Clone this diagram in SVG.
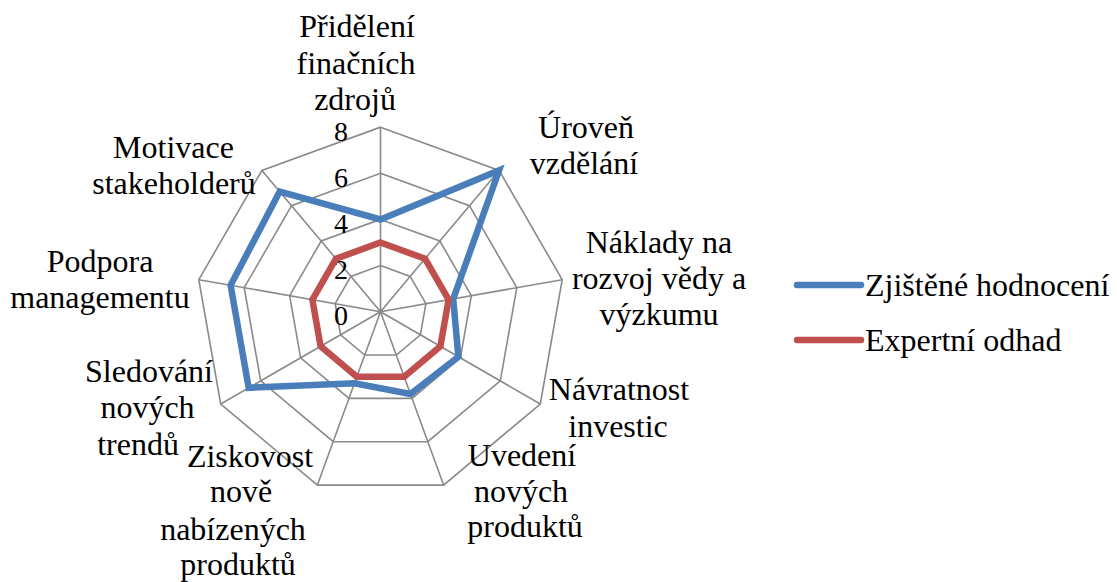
<svg xmlns="http://www.w3.org/2000/svg" width="1117" height="582" viewBox="0 0 1117 582">
<rect width="1117" height="582" fill="#fff"/>
<g id="grid" fill="none" stroke="#8a8a8a" stroke-width="1.6">
<polygon points="380.5,127.2 499.1,170.4 562.2,279.7 540.3,404 443.6,485.1 317.4,485.1 220.7,404 198.8,279.7 261.9,170.4"/>
<polygon points="380.5,173.3 469.45,205.7 516.8,287.7 500.3,380.9 427.8,441.7 333.2,441.7 260.7,380.9 244.2,287.7 291.55,205.7"/>
<polygon points="380.5,219.45 439.8,241 471.35,295.7 460.4,357.8 412.05,398.4 348.95,398.4 300.6,357.8 289.65,295.7 321.2,241"/>
<polygon points="380.5,265.6 410.15,276.4 425.9,303.7 420.4,334.8 396.3,355 364.7,355 340.6,334.8 335.1,303.7 350.85,276.4"/>
<path d="M380.5,311.7L380.5,127.2M380.5,311.7L499.1,170.4M380.5,311.7L562.2,279.7M380.5,311.7L540.3,404M380.5,311.7L443.6,485.1M380.5,311.7L317.4,485.1M380.5,311.7L220.7,404M380.5,311.7L198.8,279.7M380.5,311.7L261.9,170.4"/>
</g>
<g id="ticks">
<text x="348" y="141" font-family="Liberation Serif" font-size="28" text-anchor="end">8</text>
<text x="348" y="187" font-family="Liberation Serif" font-size="28" text-anchor="end">6</text>
<text x="348" y="233" font-family="Liberation Serif" font-size="28" text-anchor="end">4</text>
<text x="348" y="279" font-family="Liberation Serif" font-size="28" text-anchor="end">2</text>
<text x="348" y="325" font-family="Liberation Serif" font-size="28" text-anchor="end">0</text>
</g>
<g id="connectors" fill="none" stroke-width="6.5" stroke-linejoin="miter">
<polygon id="series-zjistene" stroke="#4a7ebb" points="380.5,219.45 499.1,170.4 453.2,298.9 458.4,356.7 410.5,394 354.5,383.2 248.7,387.8 230.6,285.3 279.7,191.6"/>
<polygon id="series-expertni" stroke="#c0504d" points="380.5,242.5 425,258.7 448.6,299.7 440.4,346.3 404.2,376.7 356.8,376.7 320.6,346.3 312.4,299.7 336,258.7"/>
</g>
<g id="axis-pridelovani">
<text x="357" y="37" font-family="Liberation Serif" font-size="32" text-anchor="middle">Přidělení</text>
<text x="356" y="73.5" font-family="Liberation Serif" font-size="32" text-anchor="middle">finačních</text>
<text x="355" y="110" font-family="Liberation Serif" font-size="32" text-anchor="middle">zdrojů</text>
</g>
<g id="axis-uroven">
<text x="586" y="137.5" font-family="Liberation Serif" font-size="32" text-anchor="middle">Úroveň</text>
<text x="584" y="174" font-family="Liberation Serif" font-size="32" text-anchor="middle">vzdělání</text>
</g>
<g id="axis-naklady">
<text x="659" y="252.5" font-family="Liberation Serif" font-size="32" text-anchor="middle">Náklady na</text>
<text x="659" y="288.5" font-family="Liberation Serif" font-size="32" text-anchor="middle">rozvoj vědy a</text>
<text x="659" y="325" font-family="Liberation Serif" font-size="32" text-anchor="middle">výzkumu</text>
</g>
<g id="axis-navratnost">
<text x="619" y="400" font-family="Liberation Serif" font-size="32" text-anchor="middle">Návratnost</text>
<text x="618" y="436.5" font-family="Liberation Serif" font-size="32" text-anchor="middle">investic</text>
</g>
<g id="axis-uvedeni">
<text x="522" y="465.5" font-family="Liberation Serif" font-size="32" text-anchor="middle">Uvedení</text>
<text x="521" y="501.5" font-family="Liberation Serif" font-size="32" text-anchor="middle">nových</text>
<text x="525" y="537" font-family="Liberation Serif" font-size="32" text-anchor="middle">produktů</text>
</g>
<g id="axis-ziskovost">
<text x="250" y="466.5" font-family="Liberation Serif" font-size="32" text-anchor="middle">Ziskovost</text>
<text x="241" y="502" font-family="Liberation Serif" font-size="32" text-anchor="middle">nově</text>
<text x="233" y="540" font-family="Liberation Serif" font-size="32" text-anchor="middle">nabízených</text>
<text x="238" y="575" font-family="Liberation Serif" font-size="32" text-anchor="middle">produktů</text>
</g>
<g id="axis-sledovani">
<text x="149" y="381.5" font-family="Liberation Serif" font-size="32" text-anchor="middle">Sledování</text>
<text x="147.5" y="418" font-family="Liberation Serif" font-size="32" text-anchor="middle">nových</text>
<text x="138" y="455" font-family="Liberation Serif" font-size="32" text-anchor="middle">trendů</text>
</g>
<g id="axis-podpora">
<text x="100" y="271.5" font-family="Liberation Serif" font-size="32" text-anchor="middle">Podpora</text>
<text x="100" y="308" font-family="Liberation Serif" font-size="32" text-anchor="middle">managementu</text>
</g>
<g id="axis-motivace">
<text x="173.5" y="158" font-family="Liberation Serif" font-size="32" text-anchor="middle">Motivace</text>
<text x="174" y="193.5" font-family="Liberation Serif" font-size="32" text-anchor="middle">stakeholderů</text>
</g>
<g id="legend">
<g id="legend-zjistene">
<line x1="797" y1="285" x2="861" y2="285" stroke="#4a7ebb" stroke-width="6.5" stroke-linecap="round"/>
<text x="865" y="296" font-family="Liberation Serif" font-size="32">Zjištěné hodnocení</text>
</g>
<g id="legend-expertni">
<line x1="797" y1="340" x2="861" y2="340" stroke="#c0504d" stroke-width="6.5" stroke-linecap="round"/>
<text x="865" y="351" font-family="Liberation Serif" font-size="32">Expertní odhad</text>
</g>
</g>
</svg>
